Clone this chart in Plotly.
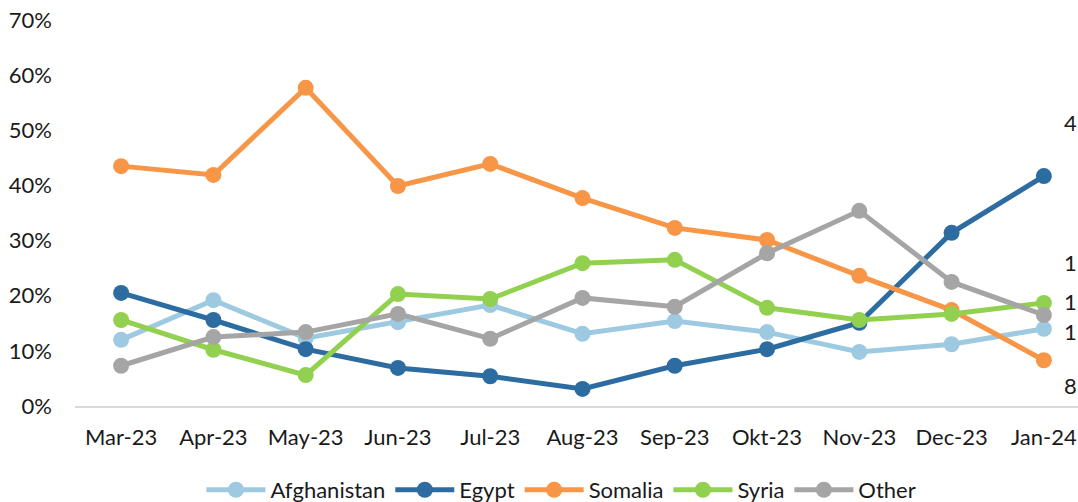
import plotly.graph_objects as go

months = ["Mar-23", "Apr-23", "May-23", "Jun-23", "Jul-23", "Aug-23",
          "Sep-23", "Okt-23", "Nov-23", "Dec-23", "Jan-24"]
afghanistan = [12.0, 19.2, 12.3, 15.2, 18.3, 13.1, 15.4, 13.4, 9.8, 11.2, 14.0]
egypt = [20.5, 15.6, 10.3, 6.9, 5.4, 3.1, 7.3, 10.3, 15.1, 31.4, 41.7]
somalia = [43.5, 41.9, 57.7, 39.9, 43.9, 37.7, 32.3, 30.1, 23.6, 17.4, 8.3]
syria = [15.6, 10.2, 5.6, 20.3, 19.4, 25.9, 26.5, 17.8, 15.6, 16.7, 18.7]
other = [7.3, 12.5, 13.4, 16.7, 12.2, 19.6, 18.0, 27.7, 35.4, 22.5, 16.5]

# data labels that show only their first glyph at the right edge of the original
edge_labels = ["4", "1", "1", "1", "8"]
edge_label_y = [51.5, 26.1, 19.0, 13.6, 3.8]

series = [
    ("Afghanistan", afghanistan, "#9ecae1"),
    ("Egypt", egypt, "#2c6ca0"),
    ("Somalia", somalia, "#f79646"),
    ("Syria", syria, "#92d050"),
    ("Other", other, "#a5a5a5"),
]

fig = go.Figure()
for name, vals, color in series:
    fig.add_trace(go.Scatter(
        x=months, y=[v / 100 for v in vals], name=name,
        mode="lines+markers",
        line=dict(color=color, width=5),
        marker=dict(color=color, size=16),
        cliponaxis=False,
    ))

font = dict(family="Lato, Open Sans, sans-serif", size=22, color="#1a1a1a")

for txt, yv in zip(edge_labels, edge_label_y):
    fig.add_annotation(x=0.984, xref="paper", y=yv / 100, yref="y",
                       text=txt, showarrow=False, xanchor="left",
                       font=font)

fig.update_layout(
    width=1078, height=502,
    margin=dict(l=75, r=0, t=20, b=96, autoexpand=False),
    paper_bgcolor="white", plot_bgcolor="white",
    font=font,
    showlegend=True,
    legend=dict(orientation="h", x=0.485, xanchor="center",
                yref="container", y=0.024, yanchor="middle",
                font=font, itemwidth=59),
    xaxis=dict(range=[-0.5, 10.37], showgrid=False, showline=True,
               linecolor="#d9d9d9", linewidth=2, ticks="", automargin=False,
               ticklabelstandoff=11, tickfont=font),
    yaxis=dict(range=[0, 0.70], dtick=0.1, tickformat=".0%", showgrid=False,
               zeroline=False, showline=False, ticks="", automargin=False,
               ticklabelstandoff=22, tickfont=font,
               ticklabeloverflow="allow"),
)
fig.write_html(
    "out.html",
    config={"displayModeBar": False},
    post_script="document.body.style.margin='0';document.body.style.overflow='hidden';",
)
